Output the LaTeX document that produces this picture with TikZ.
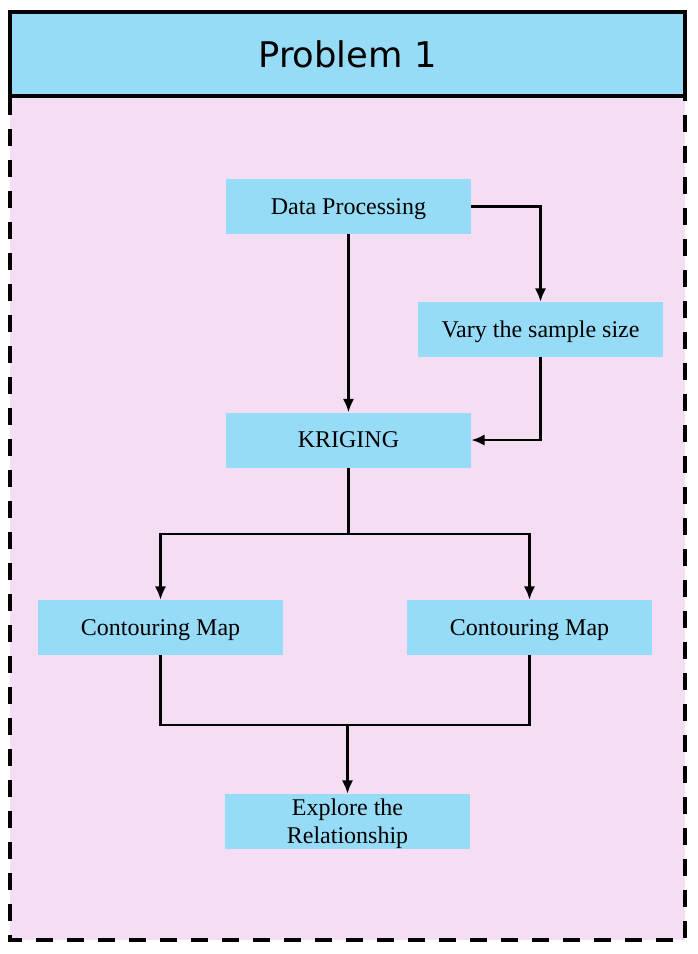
\documentclass[tikz,border=0pt]{standalone}
\usepackage{fontspec}
\setmainfont{Liberation Serif}
\newfontfamily\headfont{DejaVu Sans}
\usetikzlibrary{arrows.meta, positioning}

\definecolor{boxblue}{RGB}{151,220,247}
\definecolor{panelpink}{RGB}{245,221,243}

\begin{document}
\begin{tikzpicture}[x=0.75pt, y=-0.75pt,
  stepbox/.style={fill=boxblue, minimum width=183.75pt, minimum height=41.25pt, inner sep=0pt, text depth=0pt, align=center, font=\fontsize{18}{21}\selectfont},
  flow/.style={line width=2.1pt},
  arrow/.style={flow, -{Latex[length=10pt, width=8.5pt]}}
  ]
  \useasboundingbox (0,0) rectangle (698,954);

  % panel
  \fill[panelpink] (10,98) rectangle (685,940);
  \draw[line width=3pt, dash pattern=on 12.75pt off 10.5pt] (10,98) -- (10,940) -- (685,940) -- (685,98);
  \draw node[draw, line width=3pt, fill=boxblue, minimum width=506.25pt, minimum height=63pt, font=\headfont\fontsize{26.5}{30}\selectfont] (head) at (347.5,54) {Problem 1};

  % steps
  \draw node[stepbox] (dp) at (348.5,206.5) {Data Processing}
    node[stepbox, below=133.5pt of dp] (krig) {KRIGING}
    node[stepbox] (vary) at (540.5,329.5) {Vary the sample size};
  \draw node[stepbox] (cml) at (160.5,627.5) {Contouring Map}
    node[stepbox] (cmr) at (529.5,627.5) {Contouring Map}
    node[stepbox] (expl) at (347.5,821.5) {Explore the\\Relationship};

  \coordinate (split) at (348.5,534);
  \coordinate (join) at (347.5,725);

  % connectors
  \draw[arrow] (dp.east) -| (vary.north);
  \draw[arrow] (dp) -- (krig);
  \draw[arrow] (vary.south) |- (krig.east);
  \draw[flow] (krig.south) -- (split);
  \draw[arrow] (split) -| (cml.north);
  \draw[arrow] (split) -| (cmr.north);
  \draw[flow] (cml.south) |- (join) -| (cmr.south);
  \draw[arrow] (join) -- (expl.north);
\end{tikzpicture}
\end{document}
